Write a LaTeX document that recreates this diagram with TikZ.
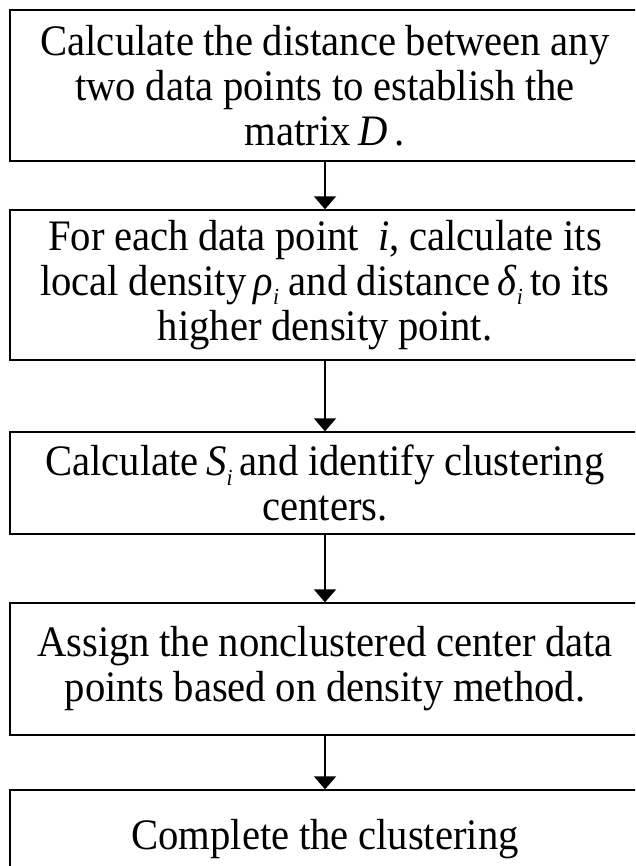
\documentclass[tikz,border=0pt]{standalone}
\usepackage{fontspec}
\setmainfont{Liberation Serif}[FakeStretch=0.935]
\usetikzlibrary{arrows.meta}

% italic subscript placed below the baseline
\newcommand{\lowsub}[1]{\raisebox{-0.22em}{\fontsize{23pt}{23pt}\selectfont\itshape #1}}
% slightly tighter interword spacing
\newcommand{\tightspaces}{\spaceskip 0.22em\relax}

\tikzset{
  stepbox/.style={draw=black, line width=1.3pt, minimum width=630pt,
    text width=625pt, align=center, inner sep=0pt,
    font=\fontsize{43.5pt}{45pt}\selectfont,
    execute at begin node=\tightspaces},
  flowarrow/.style={draw=black, line width=1.5pt,
    -{Triangle[width=22pt,length=13pt]}}
}

\begin{document}
\begin{tikzpicture}[x=1pt, y=-1pt]
  \useasboundingbox (0,0) rectangle (635,866);
  \clip (0,0) rectangle (635,866);

  \node[stepbox, minimum height=151pt] (b1) at (325,85.5)
    {Calculate the distance between any\\
     two data points to establish the\\
     matrix\,\textit{D}\,.};

  \node[stepbox, minimum height=150pt] (b2) at (325,285)
    {For each data point \ \textit{i}, calculate its\\
     local density\,\textit{ρ}\lowsub{i} and distance\,\textit{δ}\lowsub{i}\,to its\\
     higher density point.};

  \node[stepbox, minimum height=102pt] (b3) at (325,483)
    {Calculate\,\textit{S}\lowsub{i}\,and identify clustering\\
     centers.};

  \node[stepbox, minimum height=132pt] (b4) at (325,669)
    {Assign the nonclustered center data\\
     points based on density method.};

  \node[stepbox, minimum height=100pt, text depth=0pt] (b5) at (325,840)
    {\raisebox{12pt}{Complete the clustering}};

  \draw[flowarrow] (b1.south) -- (b2.north);
  \draw[flowarrow] (b2.south) -- (b3.north);
  \draw[flowarrow] (b3.south) -- (b4.north);
  \draw[flowarrow] (b4.south) -- (b5.north);
\end{tikzpicture}
\end{document}
